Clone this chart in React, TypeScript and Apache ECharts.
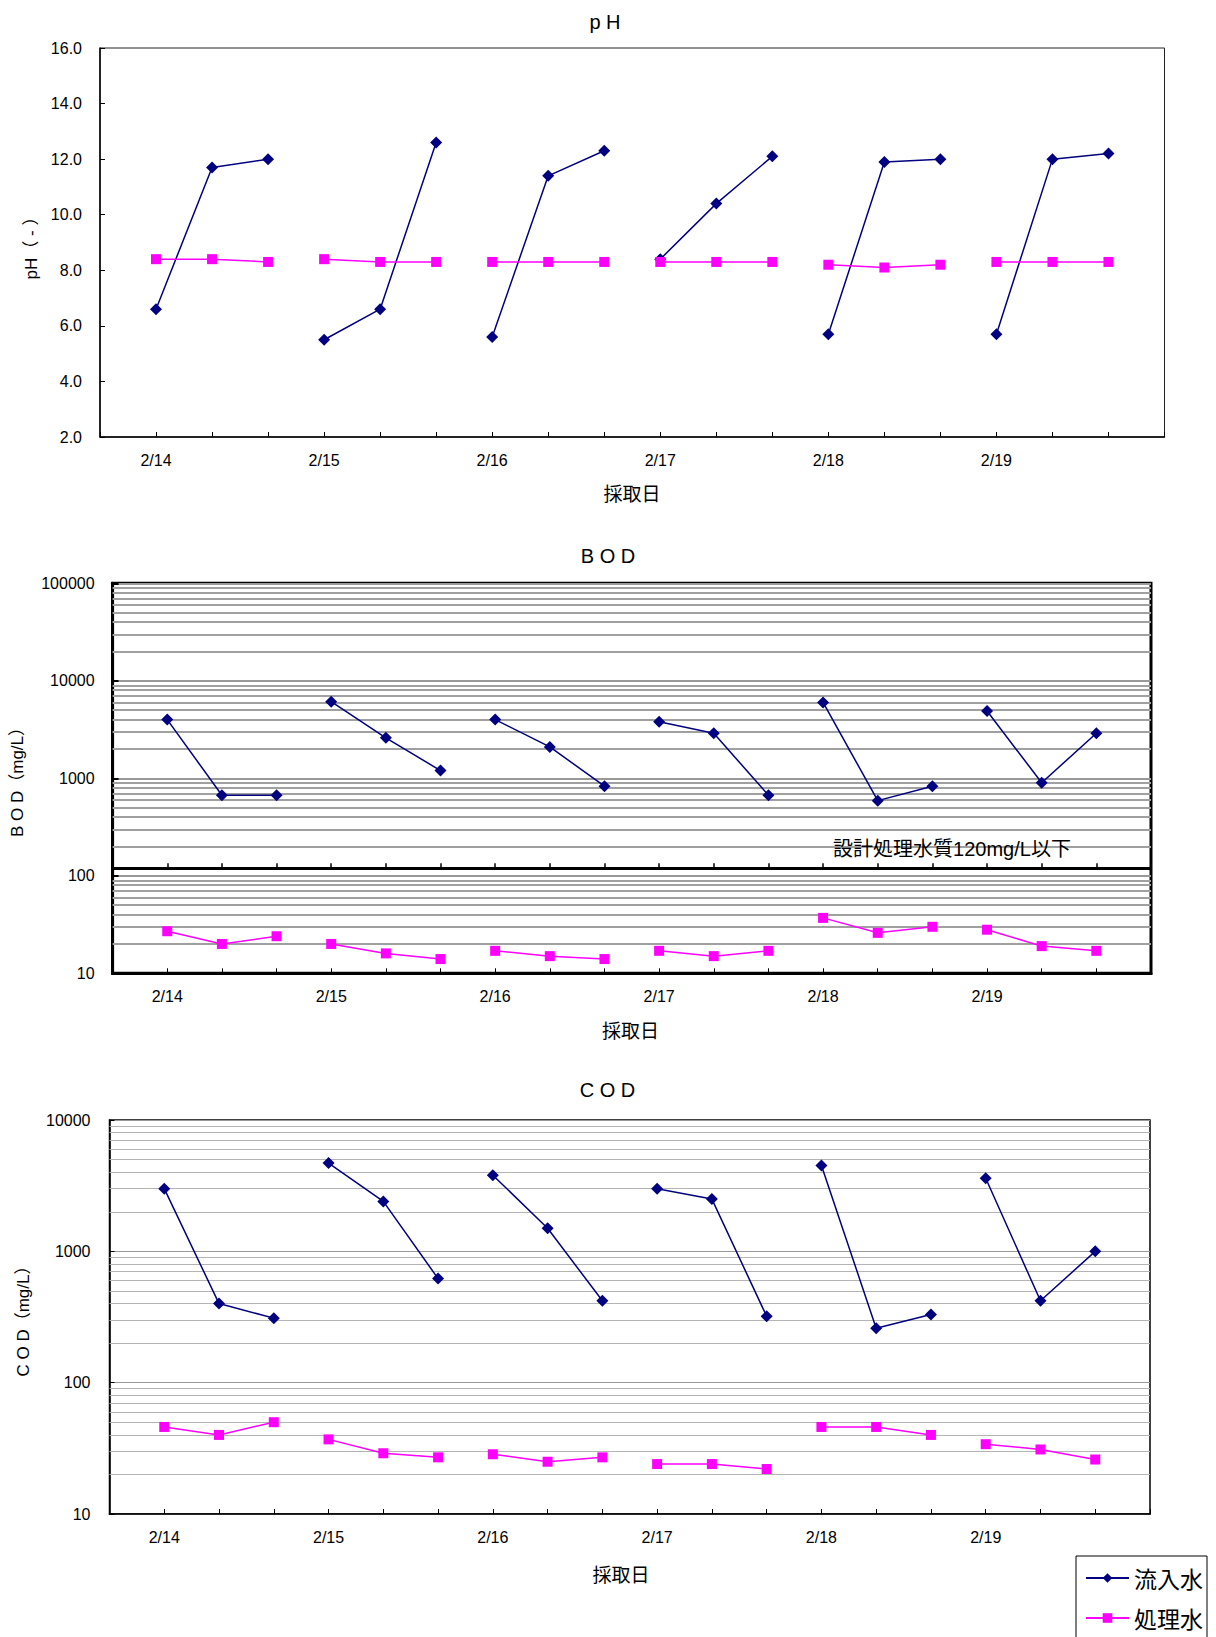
import React, { useEffect, useRef } from "react";
import * as echarts from "echarts";

// ---- data ----
const days = ["2/14", "2/15", "2/16", "2/17", "2/18", "2/19"];
const seriesNames = ["流入水", "処理水"];

const phInfluent = [[6.6, 11.7, 12.0], [5.5, 6.6, 12.6], [5.6, 11.4, 12.3], [8.4, 10.4, 12.1], [5.7, 11.9, 12.0], [5.7, 12.0, 12.2]];
const phTreated = [[8.4, 8.4, 8.3], [8.4, 8.3, 8.3], [8.3, 8.3, 8.3], [8.3, 8.3, 8.3], [8.2, 8.1, 8.2], [8.3, 8.3, 8.3]];

const bodInfluent = [[4000, 670, 670], [6100, 2600, 1200], [4000, 2100, 830], [3800, 2900, 670], [6000, 590, 830], [4900, 900, 2900]];
const bodTreated = [[27, 20, 24], [20, 16, 14], [17, 15, 14], [17, 15, 17], [37, 26, 30], [28, 19, 17]];

const codInfluent = [[3000, 400, 310], [4700, 2400, 620], [3800, 1500, 420], [3000, 2500, 320], [4500, 260, 330], [3600, 420, 1000]];
const codTreated = [[46, 40, 50], [37, 29, 27], [28.5, 25, 27], [24, 24, 22], [46, 46, 40], [34, 31, 26]];

const phRange = [2, 16, 2];
const bodRange = [10, 100000];
const codRange = [10, 10000];
const bodDesignLimit = 120;

const chartTitles = ["p H", "B O D", "C O D"];
const yNames = ["pH（ - ）", "B O D（mg/L）", "C O D（mg/L）"];
const xName = "採取日";
const limitNote = "設計処理水質120mg/L以下";

// ---- helpers ----
const categories = ["", ...days.flatMap((d) => [d, "", ""]), ""];
const NAVY = "#000080";
const MAGENTA = "#FF00FF";
const LATIN = "'Liberation Sans', 'Noto Sans CJK JP', sans-serif";
const CJK = "'Noto Sans CJK JP', sans-serif";

function daySeries(name: string, values: number[][], gi: number, color: string, symbol: string, size: number) {
  return values.map((vals, i) => {
    const data: (number | null)[] = new Array(categories.length).fill(null);
    vals.forEach((v, j) => {
      data[1 + 3 * i + j] = v;
    });
    return {
      type: "line",
      name,
      xAxisIndex: gi,
      yAxisIndex: gi,
      data,
      symbol,
      symbolSize: size,
      showAllSymbol: true,
      connectNulls: false,
      itemStyle: { color },
      lineStyle: { color, width: 1.5 },
      z: 5,
    };
  });
}

function minorLogValues(range: number[]) {
  const out: number[] = [];
  for (let d = range[0]; d < range[1]; d *= 10) {
    for (let k = 2; k <= 9; k++) out.push(k * d);
  }
  return out;
}

function gridSeries(gi: number, range: number[], color: string, width: number) {
  return {
    type: "line",
    xAxisIndex: gi,
    yAxisIndex: gi,
    data: new Array(categories.length).fill(null),
    silent: true,
    z: 1,
    markLine: {
      silent: true,
      symbol: ["none", "none"],
      label: { show: false },
      lineStyle: { color, width, type: "solid" },
      data: minorLogValues(range).map((v) => ({ yAxis: v })),
    },
  };
}

function xAxis(gi: number, lineWidth: number) {
  return {
    type: "category",
    gridIndex: gi,
    data: categories,
    boundaryGap: false,
    axisLine: { show: true, lineStyle: { color: "#000", width: lineWidth } },
    axisTick: { show: true, inside: true, length: 5, interval: 0, lineStyle: { color: "#000", width: 1 } },
    axisLabel: { interval: 0, margin: 15, fontSize: 16, color: "#000", fontFamily: LATIN },
    splitLine: { show: false },
  };
}

export default function App() {
  const ref = useRef<HTMLDivElement>(null);
  useEffect(() => {
    document.body.style.margin = "0";
    document.body.style.overflow = "hidden";
    const chart = echarts.init(ref.current!, undefined, { renderer: "svg" });

    const grids = [
      { left: 100, top: 48, width: 1064.5, height: 389, show: true, borderColor: "#222", borderWidth: 1, backgroundColor: "#fff" },
      { left: 112.6, top: 583.3, width: 1038.4, height: 390, show: true, borderColor: "#000", borderWidth: 3, backgroundColor: "#fff" },
      { left: 109.5, top: 1120, width: 1040.5, height: 394, show: true, borderColor: "#000", borderWidth: 1.5, backgroundColor: "#fff" },
    ];

    const logLabel = (v: number) => String(Math.round(v));

    const yAxes = [
      {
        type: "value",
        gridIndex: 0,
        min: phRange[0],
        max: phRange[1],
        interval: phRange[2],
        axisLine: { show: true, lineStyle: { color: "#000", width: 1.5 } },
        axisTick: { show: true, inside: true, length: 5, lineStyle: { color: "#000" } },
        axisLabel: { formatter: (v: number) => v.toFixed(1), fontSize: 16, color: "#000", margin: 18, fontFamily: LATIN },
        splitLine: { show: false },
      },
      {
        type: "log",
        logBase: 10,
        gridIndex: 1,
        min: bodRange[0],
        max: bodRange[1],
        axisLine: { show: true, lineStyle: { color: "#000", width: 3 } },
        axisTick: { show: true, inside: true, length: 6, lineStyle: { color: "#000", width: 2 } },
        axisLabel: { formatter: logLabel, fontSize: 16, color: "#000", margin: 18, fontFamily: LATIN },
        splitLine: { show: true, lineStyle: { color: "#999", width: 2 } },
      },
      {
        type: "log",
        logBase: 10,
        gridIndex: 2,
        min: codRange[0],
        max: codRange[1],
        axisLine: { show: true, lineStyle: { color: "#000", width: 1.5 } },
        axisTick: { show: true, inside: true, length: 5, lineStyle: { color: "#000" } },
        axisLabel: { formatter: logLabel, fontSize: 16, color: "#000", margin: 19, fontFamily: LATIN },
        splitLine: { show: true, lineStyle: { color: "#999", width: 1.2 } },
      },
    ];

    // tick marks along the design-limit divider in the BOD panel
    const dividerAxis = {
      type: "category",
      gridIndex: 1,
      data: categories,
      boundaryGap: false,
      position: "bottom",
      offset: -106,
      axisLine: { show: false },
      axisTick: { show: true, inside: true, length: 4, interval: 0, lineStyle: { color: "#000", width: 1.5 } },
      axisLabel: { show: false },
      splitLine: { show: false },
    };

    const series: any[] = [
      gridSeries(1, bodRange, "#a0a0a0", 2),
      gridSeries(2, codRange, "#b4b4b4", 1),
      {
        type: "line",
        xAxisIndex: 1,
        yAxisIndex: 1,
        data: new Array(categories.length).fill(null),
        silent: true,
        z: 3,
        markLine: {
          silent: true,
          symbol: ["none", "none"],
          label: { show: false },
          lineStyle: { color: "#000", width: 3, type: "solid" },
          data: [{ yAxis: bodDesignLimit }],
        },
      },
      ...daySeries(seriesNames[0], phInfluent, 0, NAVY, "diamond", 12),
      ...daySeries(seriesNames[1], phTreated, 0, MAGENTA, "rect", 10),
      ...daySeries(seriesNames[0], bodInfluent, 1, NAVY, "diamond", 12),
      ...daySeries(seriesNames[1], bodTreated, 1, MAGENTA, "rect", 10),
      ...daySeries(seriesNames[0], codInfluent, 2, NAVY, "diamond", 12),
      ...daySeries(seriesNames[1], codTreated, 2, MAGENTA, "rect", 10),
    ];

    const titlePos = [[605, 22], [608, 556], [607.5, 1090]];
    const xNamePos = [[632, 492], [630.6, 1029], [621, 1573]];
    const yNamePos = [[31.6, 244], [17.8, 778], [23.7, 1317]];

    const graphic: any[] = [
      ...chartTitles.map((t, i) => ({
        type: "text",
        x: titlePos[i][0],
        y: titlePos[i][1],
        style: { text: t, fontSize: 20, fontFamily: LATIN, fill: "#000", align: "center", verticalAlign: "middle" },
      })),
      ...xNamePos.map((p) => ({
        type: "text",
        x: p[0],
        y: p[1],
        style: { text: xName, fontSize: 19, fontFamily: CJK, fill: "#000", align: "center", verticalAlign: "middle" },
      })),
      ...yNames.map((t, i) => ({
        type: "text",
        x: yNamePos[i][0],
        y: yNamePos[i][1],
        rotation: Math.PI / 2,
        style: { text: t, fontSize: 17, fontFamily: LATIN, fill: "#000", align: "center", verticalAlign: "middle" },
      })),
      {
        type: "text",
        x: 952,
        y: 849,
        z: 10,
        style: { text: limitNote, fontSize: 20, fontFamily: LATIN, fill: "#000", align: "center", verticalAlign: "middle" },
      },
    ];

    chart.setOption({
      animation: false,
      backgroundColor: "#fff",
      grid: grids,
      xAxis: [xAxis(0, 1.5), xAxis(1, 3), xAxis(2, 1.5), dividerAxis],
      yAxis: yAxes,
      legend: {
        data: seriesNames,
        orient: "vertical",
        left: 1076,
        top: 1556,
        height: 120,
        itemWidth: 43,
        itemHeight: 12,
        itemGap: 14,
        padding: [9, 4, 10, 9],
        borderColor: "#000",
        borderWidth: 1,
        backgroundColor: "#fff",
        selectedMode: false,
        textStyle: { fontSize: 23, fontFamily: CJK, color: "#000", lineHeight: 26 },
      },
      series,
      graphic,
    });
    return () => chart.dispose();
  }, []);
  return <div ref={ref} style={{ width: 1216, height: 1637 }} />;
}
